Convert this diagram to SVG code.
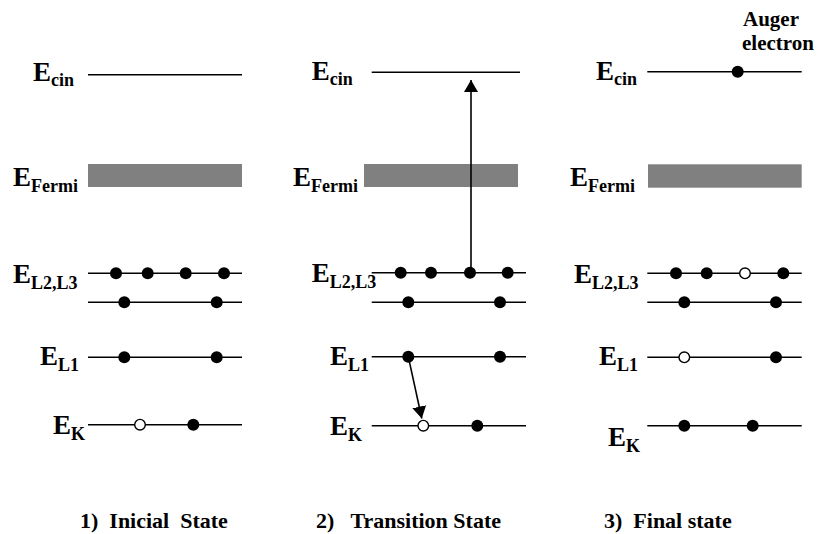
<svg xmlns="http://www.w3.org/2000/svg" width="820" height="534" viewBox="0 0 820 534">
<style>
.lv{stroke:#000;stroke-width:1.6;fill:none}
.fd{fill:#000}
.od{fill:#fff;stroke:#000;stroke-width:1.4}
.band{fill:#808080}
.lb{font-family:"Liberation Serif","Times New Roman",serif;font-weight:bold;font-size:27px;fill:#000}
.sb{font-size:18px}
.cap{font-family:"Liberation Serif","Times New Roman",serif;font-weight:bold;font-size:22px;fill:#000}
.ag{font-family:"Liberation Serif","Times New Roman",serif;font-weight:bold;font-size:21px;fill:#000}
.ar{stroke:#000;stroke-width:1.6;fill:none}
</style>
<defs>
<marker id="ah" viewBox="0 0 12 14" refX="12" refY="7" markerWidth="12" markerHeight="14" markerUnits="userSpaceOnUse" orient="auto">
<path d="M0,0 L12,7 L0,14 Z" fill="#000"/>
</marker>
</defs>
<rect width="820" height="534" fill="#fff"/>

<g id="panel1">
<line class="lv" x1="88" y1="74.7" x2="242" y2="74.7"/>
<rect class="band" x="88" y="164" width="154" height="23"/>
<line class="lv" x1="88" y1="273.3" x2="242" y2="273.3"/>
<line class="lv" x1="88" y1="302.3" x2="242" y2="302.3"/>
<line class="lv" x1="88" y1="357.3" x2="242" y2="357.3"/>
<line class="lv" x1="88" y1="424.7" x2="242" y2="424.7"/>
<circle class="fd" cx="116" cy="273.3" r="6"/>
<circle class="fd" cx="147.7" cy="273.3" r="6"/>
<circle class="fd" cx="185.7" cy="273.3" r="6"/>
<circle class="fd" cx="224" cy="273.3" r="6"/>
<circle class="fd" cx="124.3" cy="302.3" r="6"/>
<circle class="fd" cx="216.7" cy="302.3" r="6"/>
<circle class="fd" cx="124.3" cy="357.3" r="6"/>
<circle class="fd" cx="216.7" cy="357.3" r="6"/>
<circle class="od" cx="140" cy="424.7" r="5.3"/>
<circle class="fd" cx="193.3" cy="424.7" r="6"/>
<text class="lb" x="33" y="81">E<tspan class="sb" dy="5">cin</tspan></text>
<text class="lb" x="13" y="186">E<tspan class="sb" dy="6">Fermi</tspan></text>
<text class="lb" x="13" y="283">E<tspan class="sb" dy="6">L2,L3</tspan></text>
<text class="lb" x="40" y="365">E<tspan class="sb" dy="6">L1</tspan></text>
<text class="lb" x="53" y="434">E<tspan class="sb" dy="6">K</tspan></text>
<text class="cap" x="80" y="528" xml:space="preserve">1)  Inicial  State</text>
</g>

<g id="panel2">
<line class="lv" x1="371.7" y1="72.3" x2="520" y2="72.3"/>
<rect class="band" x="364" y="164" width="154" height="23"/>
<line class="lv" x1="371.7" y1="272.7" x2="526" y2="272.7"/>
<line class="lv" x1="371.7" y1="302.3" x2="526" y2="302.3"/>
<line class="lv" x1="371.7" y1="356.7" x2="526" y2="356.7"/>
<line class="lv" x1="371.7" y1="425.7" x2="526" y2="425.7"/>
<circle class="fd" cx="400.7" cy="272.7" r="6"/>
<circle class="fd" cx="431" cy="272.7" r="6"/>
<circle class="fd" cx="470" cy="272.7" r="6"/>
<circle class="fd" cx="507.7" cy="272.7" r="6"/>
<circle class="fd" cx="408.3" cy="302.3" r="6"/>
<circle class="fd" cx="500" cy="302.3" r="6"/>
<circle class="fd" cx="408.3" cy="356.7" r="6"/>
<circle class="fd" cx="500" cy="356.7" r="6"/>
<circle class="od" cx="423.3" cy="425.7" r="5.3"/>
<circle class="fd" cx="477.3" cy="425.7" r="6"/>
<text class="lb" x="311.7" y="80">E<tspan class="sb" dy="5">cin</tspan></text>
<text class="lb" x="293" y="186">E<tspan class="sb" dy="6">Fermi</tspan></text>
<text class="lb" x="311.7" y="282">E<tspan class="sb" dy="6">L2,L3</tspan></text>
<text class="lb" x="330" y="365">E<tspan class="sb" dy="6">L1</tspan></text>
<text class="lb" x="330" y="435">E<tspan class="sb" dy="6">K</tspan></text>
<text class="cap" x="316" y="528" xml:space="preserve">2)   Transition State</text>
</g>

<g id="panel3">
<line class="lv" x1="647.3" y1="71.7" x2="801.7" y2="71.7"/>
<rect class="band" x="648" y="164.3" width="153.7" height="23.4"/>
<line class="lv" x1="647.3" y1="273.3" x2="801.7" y2="273.3"/>
<line class="lv" x1="647.3" y1="302.3" x2="801.7" y2="302.3"/>
<line class="lv" x1="647.3" y1="357.3" x2="801.7" y2="357.3"/>
<line class="lv" x1="647.3" y1="425.7" x2="801.7" y2="425.7"/>
<circle class="fd" cx="737.7" cy="71.7" r="6"/>
<circle class="fd" cx="676" cy="273.3" r="6"/>
<circle class="fd" cx="706.7" cy="273.3" r="6"/>
<circle class="od" cx="745" cy="273.3" r="5.3"/>
<circle class="fd" cx="783.3" cy="273.3" r="6"/>
<circle class="fd" cx="684.3" cy="302.3" r="6"/>
<circle class="fd" cx="776" cy="302.3" r="6"/>
<circle class="od" cx="684.3" cy="357.3" r="5.3"/>
<circle class="fd" cx="776" cy="357.3" r="6"/>
<circle class="fd" cx="684.3" cy="425.7" r="6"/>
<circle class="fd" cx="752.7" cy="425.7" r="6"/>
<text class="lb" x="596" y="80">E<tspan class="sb" dy="5">cin</tspan></text>
<text class="lb" x="570" y="186">E<tspan class="sb" dy="6">Fermi</tspan></text>
<text class="lb" x="574" y="283">E<tspan class="sb" dy="6">L2,L3</tspan></text>
<text class="lb" x="599" y="365">E<tspan class="sb" dy="6">L1</tspan></text>
<text class="lb" x="608" y="446">E<tspan class="sb" dy="6">K</tspan></text>
<text class="ag" x="771" y="26" text-anchor="middle">Auger</text>
<text class="ag" x="778" y="50" text-anchor="middle">electron</text>
<text class="cap" x="604" y="528" xml:space="preserve">3)  Final state</text>
</g>

<g id="connectors">
<line class="ar" x1="471" y1="272.7" x2="471" y2="80" marker-end="url(#ah)"/>
<line class="ar" x1="408.3" y1="356.7" x2="421.8" y2="418.5" marker-end="url(#ah)"/>
</g>
</svg>
